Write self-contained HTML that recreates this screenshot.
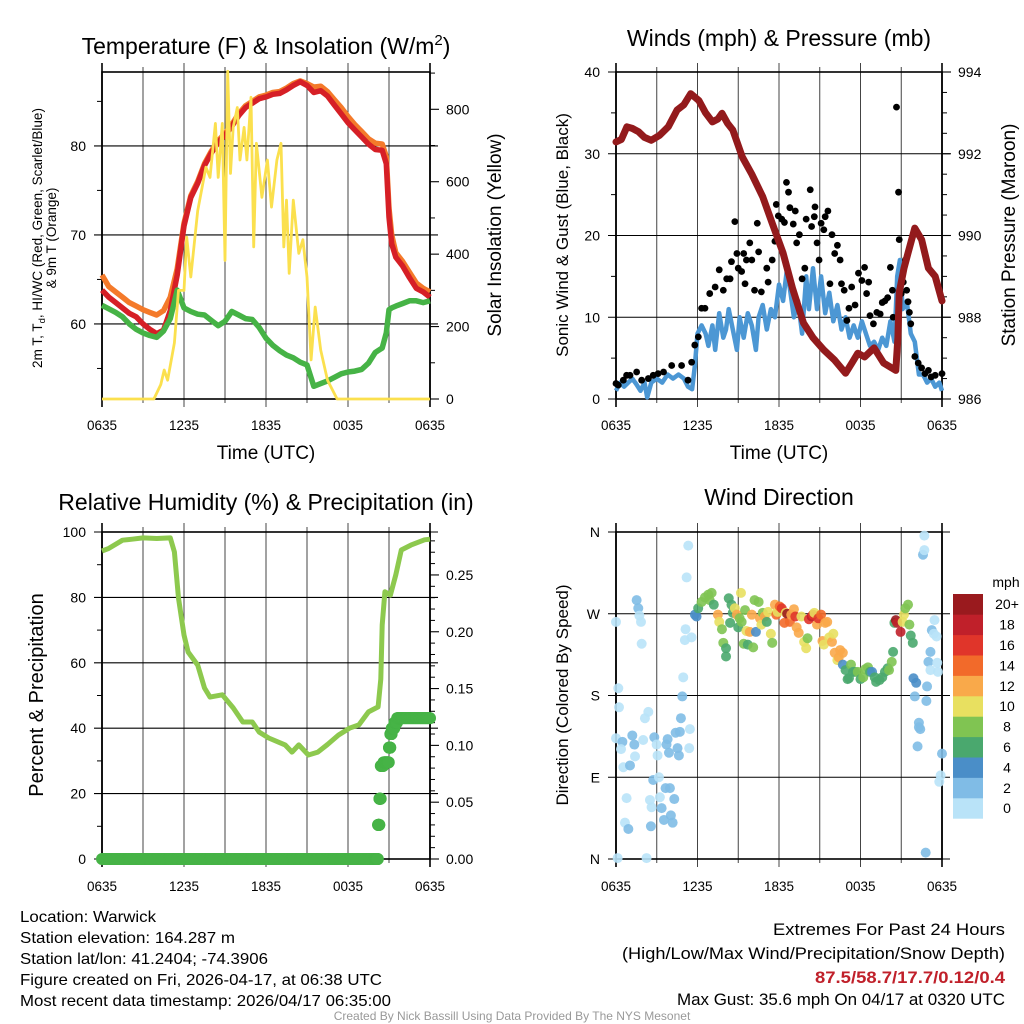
<!DOCTYPE html>
<html><head><meta charset="utf-8"><style>
html,body{margin:0;padding:0;background:#fff;}
svg{display:block;font-family:"Liberation Sans",sans-serif;}
</style></head><body>
<svg id="chart" width="1024" height="1024" viewBox="0 0 1024 1024" xmlns="http://www.w3.org/2000/svg">
<rect x="0" y="0" width="1024" height="1024" fill="#fff"/>
<text x="266" y="54" font-size="23" text-anchor="middle">Temperature (F) &amp; Insolation (W/m<tspan dy="-9" font-size="15">2</tspan><tspan dy="9">)</tspan></text>
<text x="779" y="46" font-size="23" text-anchor="middle">Winds (mph) &amp; Pressure (mb)</text>
<text x="266" y="510" font-size="23" text-anchor="middle">Relative Humidity (%) &amp; Precipitation (in)</text>
<text x="779" y="505" font-size="23" text-anchor="middle">Wind Direction</text>

<g transform="translate(42,238) rotate(-90)"><text x="0" y="0" font-size="13.5" text-anchor="middle">2m T, T<tspan font-size="9.5" dy="3">d</tspan><tspan dy="-3">, HI/WC (Red, Green, Scarlet/Blue)</tspan></text><text x="0" y="14" font-size="13.5" text-anchor="middle">&amp; 9m T (Orange)</text></g>
<text transform="translate(501,235) rotate(-90)" font-size="19" text-anchor="middle">Solar Insolation (Yellow)</text>
<text transform="translate(568,235) rotate(-90)" font-size="17" text-anchor="middle">Sonic Wind &amp; Gust (Blue, Black)</text>
<text transform="translate(1015,235) rotate(-90)" font-size="19" text-anchor="middle">Station Pressure (Maroon)</text>
<text transform="translate(43,695) rotate(-90)" font-size="20" text-anchor="middle">Percent &amp; Precipitation</text>
<text transform="translate(568,695) rotate(-90)" font-size="17" text-anchor="middle">Direction (Colored By Speed)</text>
<text x="266" y="459" font-size="19" text-anchor="middle">Time (UTC)</text>
<text x="779" y="459" font-size="19" text-anchor="middle">Time (UTC)</text>

<g font-size="16">
<text x="20" y="922" textLength="136" lengthAdjust="spacingAndGlyphs">Location: Warwick</text>
<text x="20" y="943" textLength="215" lengthAdjust="spacingAndGlyphs">Station elevation: 164.287 m</text>
<text x="20" y="964" textLength="248" lengthAdjust="spacingAndGlyphs">Station lat/lon: 41.2404; -74.3906</text>
<text x="20" y="985" textLength="362" lengthAdjust="spacingAndGlyphs">Figure created on Fri, 2026-04-17, at 06:38 UTC</text>
<text x="20" y="1006" textLength="371" lengthAdjust="spacingAndGlyphs">Most recent data timestamp: 2026/04/17 06:35:00</text>
</g>
<g font-size="17" text-anchor="end">
<text x="1005" y="935" textLength="232" lengthAdjust="spacingAndGlyphs">Extremes For Past 24 Hours</text>
<text x="1005" y="959" textLength="383" lengthAdjust="spacingAndGlyphs">(High/Low/Max Wind/Precipitation/Snow Depth)</text>
<text x="1005" y="983" textLength="190" lengthAdjust="spacingAndGlyphs" fill="#c0202a" font-weight="bold">87.5/58.7/17.7/0.12/0.4</text>
<text x="1005" y="1005" textLength="328" lengthAdjust="spacingAndGlyphs">Max Gust: 35.6 mph On 04/17 at 0320 UTC</text>
</g>
<text x="512" y="1020" font-size="12" fill="#999" text-anchor="middle">Created By Nick Bassill Using Data Provided By The NYS Mesonet</text>
<g id="layer"></g>
</svg>
<script>
// ---------- DATA ----------
const xTickLabels = ["0635","1235","1835","0035","0635"];
// Temperature panel
const redHours = [0,0.5,1,1.5,2,2.5,3,3.5,4,4.5,5,5.5,6,6.5,7,7.5,8,8.5,9,9.5,10,10.5,11,11.5,12,12.5,13,13.5,14,14.5,15,15.5,16,16.5,17,17.5,18,18.5,19,19.5,20,20.5,20.8,21,21.2,21.5,22,22.5,23,23.5,24];
const redTemp = [63.8,63.0,62.4,61.8,61.2,60.8,60.0,59.4,58.9,59.3,61.5,65.5,71.0,74.2,75.8,77.8,79.2,80.4,81.2,82.2,83.4,84.3,84.8,85.3,85.5,85.8,85.9,86.3,86.8,87.2,86.8,86.0,86.2,85.6,84.6,83.6,82.6,81.8,81.0,80.2,79.6,79.5,78.0,72.0,69.0,67.5,66.5,65.2,64.0,63.6,63.0];
const orangeTemp = [65.5,64.2,63.6,63.0,62.4,62.0,61.6,61.3,61.0,61.5,63.0,66.2,71.3,74.4,76.0,78.0,79.4,80.6,81.4,82.4,83.6,84.5,85.0,85.5,85.7,86.0,86.1,86.5,87.0,87.3,87.0,86.6,86.7,86.1,85.2,84.3,83.3,82.4,81.6,80.8,80.3,80.2,78.8,73.0,70.0,68.0,67.0,65.8,64.6,64.0,63.6];
const greenTemp = [62.1,61.7,61.3,60.8,60.0,59.4,59.0,58.7,58.5,59.2,60.6,63.8,61.8,61.4,61.1,61.0,60.4,59.8,60.3,61.4,61.0,60.6,60.5,59.6,58.4,57.6,57.0,56.5,56.2,55.7,55.4,53.0,53.3,53.6,54.0,54.4,54.6,54.7,54.9,55.6,56.8,57.3,59.0,61.6,61.8,62.0,62.3,62.6,62.6,62.4,62.6];
const solarHours = [0,3.8,4.3,4.55,4.8,5.3,5.6,6.0,6.2,6.5,7.0,7.6,7.9,8.3,8.5,8.8,9.0,9.2,9.4,9.6,9.9,10.1,10.4,10.6,10.9,11.1,11.3,11.7,12.1,12.4,12.8,13.1,13.3,13.5,13.7,14.0,14.4,14.7,15.0,15.3,15.6,16.0,16.5,17.2,24];
const solarWm2 = [0,0,40,80,52,155,300,300,447,337,520,640,612,761,612,761,383,905,623,750,805,660,750,660,833,420,706,557,660,530,660,706,420,549,347,549,402,440,337,108,254,135,52,0,0];
// Wind panel
const windHours = [0,0.3,0.6,0.9,1.2,1.5,1.8,2.1,2.3,2.6,3.0,3.4,3.8,4.2,4.6,5.0,5.3,5.6,5.8,6.0,6.3,6.6,6.8,7.1,7.3,7.6,7.9,8.1,8.3,8.6,8.9,9.1,9.4,9.7,10.0,10.3,10.5,10.8,11.1,11.4,11.7,12.0,12.3,12.6,12.8,13.1,13.4,13.7,14.0,14.2,14.5,14.8,15.1,15.4,15.7,16.0,16.3,16.6,16.9,17.2,17.5,17.8,18.1,18.4,18.7,19.0,19.3,19.6,19.9,20.2,20.5,20.7,20.9,21.1,21.4,21.7,22.0,22.3,22.6,22.9,23.2,23.5,23.8,24];
const windSpeed = [1,2,1.5,2,2.5,1.8,1,2,0.2,2,2.5,2,3,2.5,3,2.5,1.5,1.2,4,8,9,8,6.5,9,6,10.5,7.5,8.5,11,8.5,6,10,7.5,10.5,9,6,10,11.5,8.5,11,10,14,12,16,13.5,10,12,8,15,11,16,11,15,10.5,13,9.5,11.5,8.5,10,7.5,9,7.5,9.5,8,6.5,7,6,7.5,6.5,9.5,7,15,17,11,12,8,7,3,3,2,2.5,1.5,2,1];
const gustHours = [0,0.17,0.54,0.78,1.03,1.52,1.89,2.38,2.74,3.1,3.5,4.1,4.83,5.3,5.57,5.8,6.06,6.3,6.55,6.9,7.3,7.6,7.9,8.15,8.4,8.5,8.75,8.9,9.0,9.25,9.4,9.5,9.6,9.85,10.0,10.2,10.4,10.5,10.7,11.1,11.2,11.5,11.7,11.8,11.95,12.2,12.4,12.55,12.7,12.8,13.05,13.2,13.3,13.5,13.7,13.9,14.0,14.3,14.4,14.6,14.65,14.8,14.95,15.1,15.3,15.4,15.6,15.75,15.9,16.1,16.3,16.5,16.6,16.8,17.0,17.15,17.35,17.6,17.85,18.1,18.3,18.45,18.6,18.7,18.95,19.2,19.45,19.6,19.8,20.0,20.2,20.35,20.4,20.65,20.8,20.85,21.0,21.15,21.3,21.4,21.5,21.6,21.7,22.0,22.25,22.5,22.75,23.0,23.2,23.5,24];
const gustSpeed = [1.9,1.7,2.3,2.9,2.9,3.3,2.3,2.5,2.9,3.1,3.3,4.1,4.1,2.3,4.5,6.6,7.6,11.1,11.1,12.9,13.7,15.8,13.3,14.7,14.7,16.8,21.7,17.8,16.0,15.6,17.8,14.1,17.0,19.1,17.0,13.3,21.5,18.0,13.1,16.0,14.3,17.0,19.3,23.8,22.4,22.0,21.6,26.5,25.3,23.4,21.4,23.0,19.1,20.1,14.7,16.0,22.0,25.6,21.1,22.3,23.5,19.1,17.0,21.5,20.7,22.3,23.0,14.1,20.1,17.8,18.8,17.0,14.1,13.3,9.6,11.1,13.7,11.5,15.4,14.5,16.1,12.9,14.3,10.2,9.2,10.6,10.4,11.8,12.0,12.4,16.1,13.3,10.0,35.7,25.3,19.5,12.9,14.3,17.0,13.3,11.9,10.6,9.2,5.2,4.4,3.8,3.1,3.5,2.7,2.9,3.1];
const presHours = [0,0.4,0.8,1.2,1.66,2.1,2.6,3.2,3.85,4.5,5.0,5.5,6.1,6.6,7.1,7.5,7.8,8.2,8.6,9.3,10.0,10.8,11.5,12.3,13.0,13.8,14.5,15.3,16.1,16.9,17.4,17.8,18.3,19.0,19.7,20.6,20.75,20.85,21.2,21.5,22.0,22.5,23.0,23.5,24];
const presMb = [992.29,992.35,992.66,992.62,992.54,992.4,992.33,992.45,992.66,993.07,993.2,993.47,993.3,993.0,992.78,992.85,992.99,992.75,992.58,991.92,991.5,990.95,990.3,989.57,988.7,987.86,987.5,987.2,986.95,986.63,986.9,987.12,987.03,987.25,986.88,986.7,987.5,988.6,989.2,989.57,990.18,989.9,989.2,989.0,988.4];
// RH panel
const rhHours = [0,0.5,1.5,2.2,3,4,5,5.3,5.6,6.0,6.3,7,7.5,7.9,8.8,9.6,10.3,11,11.5,12.2,13.4,13.9,14.4,15.1,15.8,16.5,17.3,18.1,18.8,19.5,20.2,20.4,20.5,20.7,21.1,21.5,21.9,22.6,23.6,24];
const rhPct = [94.2,95.0,97.5,97.8,98.2,98.0,98.2,93.9,79.8,68.5,63.3,59.3,52.3,49.5,50.2,46.2,41.9,41.9,38.8,37.0,34.9,32.7,34.9,31.8,32.7,35.0,37.9,40.0,41.0,45.0,46.5,55.0,71.6,81.7,80.7,86.9,94.5,96.0,97.6,97.8];
const precipHours = [0,1,2,3,4,5,6,7,8,9,10,11,12,13,14,15,16,17,18,19,20,20.2,20.3,20.4,20.6,20.8,21.0,21.1,21.2,21.4,21.6,22.0,22.5,23.0,23.5,24];
const precipIn = [0,0,0,0,0,0,0,0,0,0,0,0,0,0,0,0,0,0,0,0,0,0.03,0.053,0.082,0.085,0.085,0.098,0.11,0.115,0.12,0.124,0.124,0.124,0.124,0.124,0.124];
// Direction panel
const dirHours = [0,0.17,0.22,0,0.47,0.37,0.54,1.03,1.2,1.35,1.4,0.78,0.66,0.91,0.12,2.25,1.52,1.64,1.72,1.84,1.89,2.0,2.13,2.38,2.5,2.57,2.62,2.74,2.82,2.99,3.06,3.16,3.23,3.36,3.53,3.65,3.72,3.8,3.9,3.97,4.04,4.17,4.29,4.39,4.53,4.63,4.7,4.78,4.88,4.95,5.07,5.2,5.32,5.39,5.44,5.56,5.12,5.81,5.93,
6.05,6.3,6.55,6.8,7.04,6.9,7.2,7.5,7.6,7.8,7.9,8.1,8.1,8.3,8.4,8.5,8.6,8.75,8.9,9.0,9.1,9.2,9.25,9.4,9.5,9.6,9.7,9.85,10.0,10.1,10.2,10.3,10.5,10.6,10.7,10.8,10.95,11.1,11.2,11.4,11.5,11.7,11.8,11.9,12.05,12.2,12.4,12.5,12.6,12.8,12.9,13.1,13.2,13.3,13.45,13.65,13.85,14.0,14.1,14.2,14.4,14.5,14.6,14.8,14.9,15.1,15.2,15.3,15.4,15.55,15.7,15.9,16.0,16.1,16.3,16.4,16.5,16.7,16.7,16.9,17.05,17.15,17.3,17.45,17.6,17.8,18.0,18.2,18.35,18.55,18.7,18.85,19.05,19.15,19.4,19.6,19.8,20.0,20.1,20.3,20.4,20.5,20.6,20.7,20.95,21.1,21.2,21.3,21.5,21.6,21.7,21.85,21.9,22.1,22.0,22.2,22.3,22.3,22.4,22.6,22.7,22.7,22.8,22.85,22.9,23.0,23.15,23.25,23.4,23.45,23.6,23.65,23.7,23.15,23.8,23.9,24];
const dirDeg = [261,188,167,133,129,121,101,103,136,126,113,67,40,33,1,1,285,276,268,261,237,131,155,162,65,36,57,87,134,126,114,90,68,56,43,78,126,132,117,78,48,40,66,139,122,114,140,155,179,200,241,310,345,122,143,244,253,269,267,
276,283,288,291,293,285,280,269,261,253,238,232,223,287,260,280,271,276,269,255,265,293,261,237,274,251,236,250,269,233,285,250,283,265,258,271,267,261,272,248,238,280,269,272,278,276,260,271,270,261,269,275,267,255,249,267,239,232,243,264,267,269,271,258,265,269,240,236,260,261,244,239,248,227,219,222,230,227,214,208,198,199,214,206,206,206,198,200,209,211,206,206,200,195,197,200,206,210,208,217,228,260,263,260,250,261,269,276,280,258,246,238,199,194,179,124,150,145,143,335,340,356,7,174,190,217,228,252,248,263,245,216,206,208,85,92,116];
const dirSpeed = [1,1,1,1,3,1,1,3,3,3,1,1,1,3,1,1,3,3,1,1,1,1,1,1,1,3,1,3,3,1,1,1,1,3,3,3,3,3,3,3,3,3,3,3,3,3,3,3,3,1,1,1,1,1,1,1,1,5,5,
7,9,9,9,9,9,7,13,11,9,9,7,7,7,7,7,7,11,13,7,9,11,9,9,9,11,7,13,13,9,9,5,9,13,11,9,13,7,11,11,9,13,15,11,15,17,15,11,21,15,13,13,17,13,13,11,11,11,9,17,19,17,11,13,17,15,13,11,13,13,11,13,11,13,11,13,13,13,5,7,7,7,9,7,7,9,7,9,9,9,7,5,7,7,7,7,7,7,9,9,7,7,21,19,19,11,11,9,9,9,7,7,5,5,3,3,3,3,3,3,1,1,3,3,3,3,3,3,1,1,1,1,1,1,1,1,3,3];
const speedColors = ["#b9e3f8","#80bce6","#4a8ec8","#4aa86e","#80c452","#e8e060","#f9a94a","#f26a2a","#e0352a","#c0202a","#9a1a1e"];
const speedLabels = ["0","2","4","6","8","10","12","14","16","18","20+"];

// ---------- HELPERS ----------
const NS = "http://www.w3.org/2000/svg";
const layer = document.getElementById('layer');
function mk(tag, attrs, parent) {
  const el = document.createElementNS(NS, tag);
  for (const k in attrs) el.setAttribute(k, attrs[k]);
  (parent || layer).appendChild(el);
  return el;
}
function lin(d0, d1, r0, r1) { return v => r0 + (v - d0) / (d1 - d0) * (r1 - r0); }
function pathFrom(xs, ys, sx, sy) {
  return xs.map((h, i) => (i ? "L" : "M") + sx(h).toFixed(1) + "," + sy(ys[i]).toFixed(1)).join("");
}

const P = {
  temp: {x0:102,x1:430,y0:72,y1:399},
  wind: {x0:616,x1:942,y0:72,y1:399},
  rh:   {x0:102,x1:430,y0:532,y1:859},
  dir:  {x0:616,x1:942,y0:532,y1:859}
};

function frame(p, name, leftTicks, leftLabels, leftMinor, sy, rightTicks, rightLabels, rightMinor, sy2, labelY) {
  const g = mk('g', {});
  
  
  const sx = lin(0, 24, p.x0, p.x1);
  for (let h = 0; h <= 24; h += 3) {
    const x = sx(h);
    const l = mk('line', {x1:x, x2:x, y1:p.y0 - (h % 6 === 0 ? 9 : 5), y2:p.y1 + (h % 6 === 0 ? 8 : 4), stroke:(h===0||h===24)?'#000':'#444', 'stroke-width':(h===0||h===24)?1.6:1}, g);
    
    
  }
  xTickLabels.forEach((t, i) => {
    const tx = mk('text', {x:sx(i * 6), y:labelY, 'font-size':13.5, 'text-anchor':'middle'}, g);
    tx.textContent = t;
    
    
  });
  leftTicks.forEach((v, i) => {
    const y = sy(v);
    const gl = mk('line', {x1:p.x0 - 8, x2:p.x1 + 8, y1:y, y2:y, stroke:'#000', 'stroke-width':1.1}, g);
    
    
    const tx = mk('text', {x:p.x0 - 16, y:y + 5, 'font-size':14, 'text-anchor':'end'}, g);
    tx.textContent = leftLabels[i];
    
    
  });
  leftMinor.forEach(v => {
    const y = sy(v);
    const m = mk('line', {x1:p.x0 - 5, x2:p.x0, y1:y, y2:y, stroke:'#000', 'stroke-width':1}, g);
    
    
  });
  if (rightTicks) {
    rightTicks.forEach((v, i) => {
      const y = sy2(v);
      const t = mk('line', {x1:p.x1, x2:p.x1 + 9, y1:y, y2:y, stroke:'#000', 'stroke-width':1.1}, g);
      
      
      const tx = mk('text', {x:p.x1 + 16, y:y + 5, 'font-size':14, 'text-anchor':'start'}, g);
      tx.textContent = rightLabels[i];
      
      
    });
    rightMinor.forEach(v => {
      const y = sy2(v);
      const m = mk('line', {x1:p.x1, x2:p.x1 + 5, y1:y, y2:y, stroke:'#000', 'stroke-width':1}, g);
      
      
    });
  }
  const fr = mk('rect', {x:p.x0, y:p.y0, width:p.x1 - p.x0, height:p.y1 - p.y0, fill:'none', stroke:'#000', 'stroke-width':1.6}, g);
  
  
  return sx;
}

// ---------- TEMPERATURE PANEL ----------
{
  const p = P.temp;
  const sy = lin(51.57, 88.3, p.y1, p.y0);
  const sy2 = lin(0, 903, p.y1, p.y0);
  const sx = frame(p, 'temp', [80,70,60], ['80','70','60'], [85,75,65,55], sy,
    [0,200,400,600,800], ['0','200','400','600','800'], [100,300,500,700,900], sy2, 430);
  const g = mk('g', {});
  
  
  const o = mk('path', {d:pathFrom(redHours, orangeTemp, sx, sy), fill:'none', stroke:'#f47a2a', 'stroke-width':5.5, 'stroke-linejoin':'round'}, g);
  
  
  const r = mk('path', {d:pathFrom(redHours, redTemp, sx, sy), fill:'none', stroke:'#d61f26', 'stroke-width':5.5, 'stroke-linejoin':'round'}, g);
  
  
  const gr = mk('path', {d:pathFrom(redHours, greenTemp, sx, sy), fill:'none', stroke:'#46b346', 'stroke-width':5.5, 'stroke-linejoin':'round'}, g);
  
  
  const y = mk('path', {d:pathFrom(solarHours, solarWm2, sx, sy2), fill:'none', stroke:'#fbe04e', 'stroke-width':2.8, 'stroke-linejoin':'round'}, g);
  
  
}

// ---------- WIND PANEL ----------
{
  const p = P.wind;
  const sy = lin(0, 40, p.y1, p.y0);
  const sy2 = lin(986, 994, p.y1, p.y0);
  const sx = frame(p, 'wind', [0,10,20,30,40], ['0','10','20','30','40'], [5,15,25,35], sy,
    [986,988,990,992,994], ['986','988','990','992','994'], [986.5,987,987.5,988.5,989,989.5,990.5,991,991.5,992.5,993,993.5], sy2, 430);
  const g = mk('g', {});
  
  
  const b = mk('path', {d:pathFrom(windHours, windSpeed, sx, sy), fill:'none', stroke:'#4c97d4', 'stroke-width':4.5, 'stroke-linejoin':'round'}, g);
  
  
  gustHours.forEach((h, i) => {
    const c = mk('circle', {cx:sx(h), cy:sy(gustSpeed[i]), r:3.4, fill:'#000'}, g);
    
    
  });
  const pr = mk('path', {d:pathFrom(presHours, presMb, sx, sy2), fill:'none', stroke:'#931a1c', 'stroke-width':7, 'stroke-linejoin':'round', 'stroke-linecap':'round'}, g);
  
  
}

// ---------- RH PANEL ----------
{
  const p = P.rh;
  const sy = lin(0, 100, p.y1, p.y0);
  const sy2 = lin(0, 0.2878, p.y1, p.y0);
  const sx = frame(p, 'rh', [0,20,40,60,80,100], ['0','20','40','60','80','100'], [10,30,50,70,90], sy,
    [0,0.05,0.1,0.15,0.2,0.25], ['0.00','0.05','0.10','0.15','0.20','0.25'], [0.01,0.02,0.03,0.04,0.06,0.07,0.08,0.09,0.11,0.12,0.13,0.14,0.16,0.17,0.18,0.19,0.21,0.22,0.23,0.24,0.26,0.27,0.28], sy2, 891);
  const g = mk('g', {});
  
  
  const l = mk('path', {d:pathFrom(rhHours, rhPct, sx, sy), fill:'none', stroke:'#8dc94e', 'stroke-width':5, 'stroke-linejoin':'round'}, g);
  
  
  for (let i = 0; i < precipHours.length - 1; i++) {
    const steps = 12;
    for (let s = 0; s < steps; s++) {
      const h = precipHours[i] + (precipHours[i+1] - precipHours[i]) * s / steps;
      const v = precipIn[i];
      const c = mk('circle', {cx:sx(h), cy:sy2(v), r:6, fill:'#46b346'}, g);
      
      
    }
  }
  const last = precipHours.length - 1;
  const c = mk('circle', {cx:sx(precipHours[last]), cy:sy2(precipIn[last]), r:6, fill:'#46b346'}, g);
  
  
}

// ---------- DIRECTION PANEL ----------
{
  const p = P.dir;
  const sy = lin(0, 360, p.y1, p.y0);
  const sx = frame(p, 'dir', [0,90,180,270,360], ['N','E','S','W','N'], [], sy, null, null, null, null, 891);
  const g = mk('g', {});
  
  
  dirHours.forEach((h, i) => {
    const idx = Math.min(10, Math.floor(dirSpeed[i] / 2));
    const c = mk('circle', {cx:sx(h), cy:sy(dirDeg[i]), r:5, fill:speedColors[idx], 'fill-opacity':0.9}, g);
    
    
  });
  const cb = mk('g', {});
  
  
  const t = mk('text', {x:1006, y:587, 'font-size':14, 'text-anchor':'middle'}, cb);
  t.textContent = 'mph';
  
  
  const boxH = 20.4, top = 594;
  speedColors.forEach((col, i) => {
    const y = top + (10 - i) * boxH;
    const r = mk('rect', {x:953, y:y, width:30, height:boxH + 0.3, fill:col}, cb);
    
    
    const lb = mk('text', {x:1007, y:y + boxH/2 + 5, 'font-size':14, 'text-anchor':'middle'}, cb);
    lb.textContent = speedLabels[i];
    
    
  });
}
</script>
</body></html>
